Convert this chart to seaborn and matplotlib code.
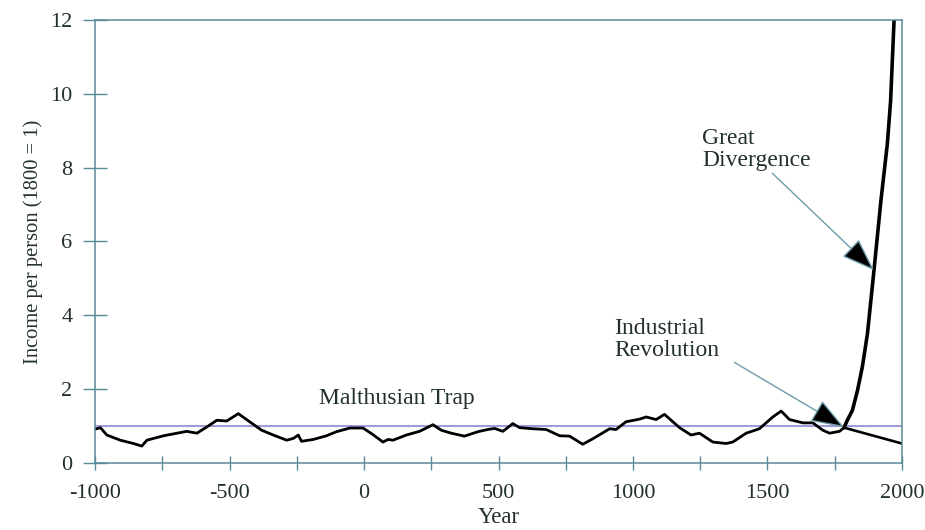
import matplotlib

matplotlib.use("Agg")
import matplotlib.pyplot as plt
import pandas as pd
import seaborn as sns

# Malthusian era: income per person relative to 1800
malthus_years = [
    -1000, -981, -957, -907, -858, -827, -808, -746, -660, -622, -585, -548,
    -511, -468, -424, -381, -338, -288, -263, -245, -233, -189, -140, -103,
    -53, -4, 33, 70, 89, 107, 157, 206, 256, 287, 324, 373, 423, 460, 485,
    516, 553, 578, 628, 677, 727, 764, 813, 851, 913, 937, 974, 1024, 1049,
    1086, 1117, 1173, 1216, 1247, 1297, 1346, 1371, 1421, 1470, 1520, 1551,
    1582, 1632, 1669, 1706, 1731, 1768, 1785,
]
malthus_income = [
    0.91, 0.95, 0.75, 0.61, 0.52, 0.45, 0.61, 0.73, 0.85, 0.80, 0.97, 1.15,
    1.13, 1.33, 1.10, 0.88, 0.75, 0.61, 0.66, 0.75, 0.58, 0.63, 0.73, 0.84,
    0.94, 0.94, 0.76, 0.56, 0.63, 0.61, 0.75, 0.85, 1.03, 0.88, 0.80, 0.72,
    0.84, 0.90, 0.93, 0.85, 1.06, 0.95, 0.92, 0.90, 0.73, 0.72, 0.50, 0.65,
    0.92, 0.90, 1.11, 1.18, 1.24, 1.17, 1.31, 0.95, 0.75, 0.80, 0.56, 0.52,
    0.56, 0.80, 0.92, 1.24, 1.40, 1.17, 1.08, 1.08, 0.88, 0.80, 0.85, 0.95,
]

# After the Industrial Revolution: rich vs poor paths
rich_years = [1785, 1797, 1816, 1835, 1853, 1872, 1896, 1922, 1946, 1958, 1971]
rich_income = [0.95, 1.15, 1.42, 1.96, 2.6, 3.5, 5.2, 7.1, 8.65, 9.8, 12.0]
poor_years = [1785, 2000]
poor_income = [0.95, 0.52]

ref_level = 1.0
x_ticks = [-1000, -500, 0, 500, 1000, 1500, 2000]
x_minor = [-750, -250, 250, 750, 1250, 1750]
y_ticks = [0, 2, 4, 6, 8, 10, 12]

spine_col = "#5a8a9a"
text_col = "#22302f"

sns.set_theme(style="white")
plt.rcParams["font.family"] = ["Liberation Serif", "DejaVu Serif"]
plt.rcParams["axes.unicode_minus"] = False

fig = plt.figure(figsize=(9.25, 5.3), dpi=100)
ax = fig.add_axes([0.103, 0.127, 0.872, 0.835])

ax.axhline(ref_level, color="#9d9ddc", lw=1.5, zorder=1)

malthus = pd.DataFrame({"year": malthus_years, "income": malthus_income})
rich = pd.DataFrame({"year": rich_years, "income": rich_income})
poor = pd.DataFrame({"year": poor_years, "income": poor_income})
sns.lineplot(data=malthus, x="year", y="income", ax=ax, color="black", lw=2.0)
sns.lineplot(data=poor, x="year", y="income", ax=ax, color="black", lw=1.9)
sns.lineplot(data=rich, x="year", y="income", ax=ax, color="black", lw=2.6)

ax.set_xlim(-1000, 2000)
ax.set_ylim(0, 12)
ax.set_xticks(x_ticks)
ax.set_xticks(x_minor, minor=True)
ax.set_yticks(y_ticks)
ax.set_xlabel("Year", fontsize=16.5, color=text_col, labelpad=3)
ax.set_ylabel("Income per person (1800 = 1)", fontsize=14.8, color=text_col, labelpad=5)

for s in ax.spines.values():
    s.set_color(spine_col)
    s.set_linewidth(1.1)
ax.tick_params(axis="x", which="both", direction="inout", length=10, width=1,
               color=spine_col, labelsize=16, labelcolor=text_col, pad=10,
               bottom=True)
ax.tick_params(axis="y", direction="inout", length=17, width=1,
               color=spine_col, labelsize=16, labelcolor=text_col, pad=8,
               left=True)

arrow = dict(arrowstyle="-|>,head_length=1.05,head_width=0.38", mutation_scale=20,
             facecolor="black", edgecolor="#6e9cab", lw=1.0, shrinkA=0, shrinkB=0)

ax.text(123, 1.75, "Malthusian Trap", ha="center", va="center", fontsize=17,
        color=text_col)
ax.text(1258, 8.5, "Great\nDivergence", ha="left", va="center", fontsize=17,
        color=text_col, linespacing=1.05)
ax.annotate("", xy=(1896, 5.22), xytext=(1518, 7.85), arrowprops=arrow)
ax.text(931, 3.33, "Industrial\nRevolution", ha="left", va="center", fontsize=17,
        color=text_col, linespacing=1.05)
ax.annotate("", xy=(1785, 0.96), xytext=(1377, 2.72), arrowprops=arrow)

fig.savefig("out.png", dpi=100)
